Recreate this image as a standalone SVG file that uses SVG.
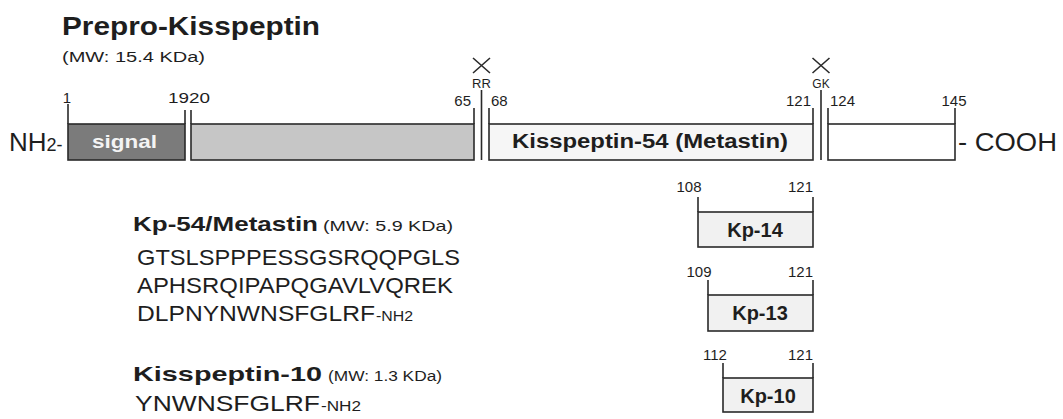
<svg xmlns="http://www.w3.org/2000/svg" width="1063" height="419" viewBox="0 0 1063 419">
<style>
text{font-family:"Liberation Sans",Arial,Helvetica,sans-serif;fill:#1e1e1e}
.b{font-weight:bold}
.num{font-size:15px}
.mid{text-anchor:middle}
.end{text-anchor:end}
.seq{font-size:22px}
.mw{font-size:14px}
.seg{stroke:#2a2a2a;stroke-width:1.6}
.tick{stroke:#2a2a2a;stroke-width:1.6;fill:none}
.cut{stroke:#2a2a2a;stroke-width:1.6;fill:none}
.frag{fill:#f1f1f1;stroke:#2a2a2a;stroke-width:1.6}
</style>
<rect width="1063" height="419" fill="#ffffff"/>

<g id="title">
<text x="62" y="35" class="b" font-size="26" textLength="258" lengthAdjust="spacingAndGlyphs">Prepro-Kisspeptin</text>
<text x="62" y="62" font-size="14" textLength="143" lengthAdjust="spacingAndGlyphs">(MW: 15.4 KDa)</text>
</g>

<g id="nterm">
<text x="9" y="151" font-size="26">NH<tspan font-size="18">2-</tspan></text>
</g>

<g id="signal">
<rect class="seg" x="68" y="124" width="117" height="36" fill="#7b7b7b"/>
<text x="124.5" y="148" class="b mid" font-size="19" style="fill:#f4f4f4" textLength="65" lengthAdjust="spacingAndGlyphs">signal</text>
</g>

<g id="proregion">
<rect class="seg" x="191" y="124" width="283" height="36" fill="#c6c6c6"/>
</g>

<g id="kp54">
<rect class="seg" x="489" y="124" width="324" height="36" fill="#f6f6f6"/>
<text x="650" y="148" class="b mid" font-size="20" textLength="276" lengthAdjust="spacingAndGlyphs">Kisspeptin-54 (Metastin)</text>
</g>

<g id="cterm">
<rect class="seg" x="828" y="124" width="127" height="36" fill="#ffffff"/>
<text x="958" y="151" font-size="26" textLength="99" lengthAdjust="spacingAndGlyphs">- COOH</text>
</g>

<g id="connectors">
<line class="tick" x1="68" y1="104" x2="68" y2="124"/>
<line class="tick" x1="185" y1="110" x2="185" y2="124"/>
<line class="tick" x1="191" y1="110" x2="191" y2="124"/>
<line class="tick" x1="474" y1="108" x2="474" y2="124"/>
<line class="tick" x1="481.5" y1="90" x2="481.5" y2="160"/>
<line class="tick" x1="489" y1="108" x2="489" y2="124"/>
<line class="tick" x1="813" y1="108" x2="813" y2="124"/>
<line class="tick" x1="821" y1="90" x2="821" y2="160"/>
<line class="tick" x1="828" y1="108" x2="828" y2="124"/>
<line class="tick" x1="955" y1="108" x2="955" y2="124"/>
<path class="cut" d="M473,58 L490,73 M490,58 L473,73"/>
<path class="cut" d="M812.5,58 L829.5,73 M829.5,58 L812.5,73"/>
<line class="tick" x1="698" y1="197" x2="698" y2="212"/>
<line class="tick" x1="813" y1="197" x2="813" y2="212"/>
<line class="tick" x1="708" y1="280" x2="708" y2="295"/>
<line class="tick" x1="813" y1="280" x2="813" y2="295"/>
<line class="tick" x1="723" y1="363" x2="723" y2="378"/>
<line class="tick" x1="813" y1="363" x2="813" y2="378"/>
</g>

<g id="labels">
<text x="481.5" y="88" class="mid" font-size="13">RR</text>
<text x="821" y="88" class="mid" font-size="12">GK</text>
<text x="67" y="103" class="num mid">1</text>
<text x="168" y="103" class="num" textLength="42" lengthAdjust="spacingAndGlyphs">1920</text>
<text x="471" y="106" class="num end">65</text>
<text x="491" y="106" class="num">68</text>
<text x="811" y="106" class="num end">121</text>
<text x="830" y="106" class="num">124</text>
<text x="954" y="106" class="num mid">145</text>
</g>

<g id="kp54-seq">
<text x="133" y="231" class="b" font-size="21" textLength="185" lengthAdjust="spacingAndGlyphs">Kp-54/Metastin</text>
<text x="323" y="231" class="mw" textLength="130" lengthAdjust="spacingAndGlyphs">(MW: 5.9 KDa)</text>
<text x="137" y="265" class="seq" textLength="323" lengthAdjust="spacingAndGlyphs">GTSLSPPPESSGSRQQPGLS</text>
<text x="137" y="293" class="seq" textLength="316" lengthAdjust="spacingAndGlyphs">APHSRQIPAPQGAVLVQREK</text>
<text x="137" y="321" class="seq" textLength="238" lengthAdjust="spacingAndGlyphs">DLPNYNWNSFGLRF</text>
<text x="376" y="321" class="mw" textLength="37" lengthAdjust="spacingAndGlyphs">-NH2</text>
</g>

<g id="kp10-seq">
<text x="133" y="381" class="b" font-size="21" textLength="189" lengthAdjust="spacingAndGlyphs">Kisspeptin-10</text>
<text x="328" y="381" class="mw" textLength="114" lengthAdjust="spacingAndGlyphs">(MW: 1.3 KDa)</text>
<text x="135" y="411" class="seq" textLength="185" lengthAdjust="spacingAndGlyphs">YNWNSFGLRF</text>
<text x="321" y="411" class="mw" textLength="40" lengthAdjust="spacingAndGlyphs">-NH2</text>
</g>

<g id="kp14">
<rect class="frag" x="698" y="212" width="115" height="35"/>
<text x="689" y="192" class="num mid">108</text>
<text x="813" y="192" class="num end">121</text>
<text x="755" y="237" class="b mid" font-size="20">Kp-14</text>
</g>

<g id="kp13">
<rect class="frag" x="708" y="295" width="105" height="36"/>
<text x="699" y="277" class="num mid">109</text>
<text x="813" y="277" class="num end">121</text>
<text x="760" y="320" class="b mid" font-size="20">Kp-13</text>
</g>

<g id="kp10">
<rect class="frag" x="723" y="378" width="90" height="34"/>
<text x="715" y="360" class="num mid">112</text>
<text x="813" y="360" class="num end">121</text>
<text x="768" y="403" class="b mid" font-size="20">Kp-10</text>
</g>
</svg>
